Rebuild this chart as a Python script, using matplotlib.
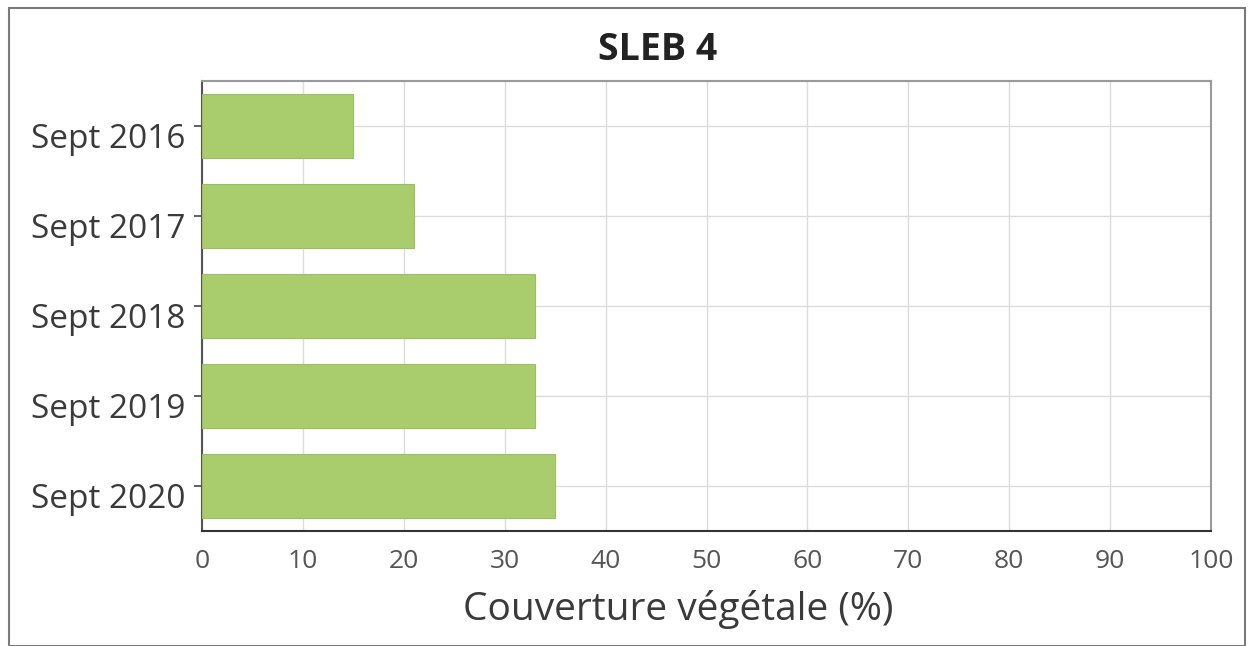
import numpy as np
import matplotlib.pyplot as plt
import matplotlib.transforms as mtransforms
from matplotlib.patches import Rectangle

# Couverture végétale par campagne (SLEB 4)
campagnes = ['Sept 2016', 'Sept 2017', 'Sept 2018', 'Sept 2019', 'Sept 2020']
couverture = [15, 21, 33, 33, 35]
xticks = [0, 10, 20, 30, 40, 50, 60, 70, 80, 90, 100]

plt.rcParams['font.family'] = ['Open Sans', 'DejaVu Sans']
text_color = '#3a3a3a'

fig = plt.figure(figsize=(12.53, 6.46), dpi=100)
ax = fig.add_axes([202 / 1253, 1 - 531 / 646, 1009 / 1253, 450 / 646])

y = np.arange(len(campagnes))
ax.barh(y, couverture, height=0.72, color='#a9cd6c', edgecolor='#9bbf60',
        linewidth=0.8, zorder=3)

ax.set_xlim(0, 100)
ax.set_ylim(len(campagnes) - 0.5, -0.5)
ax.set_xticks(xticks)
ax.set_yticks(y)
ax.set_yticklabels(campagnes)
ax.grid(True, color='#dcdcdc', linewidth=1.0, zorder=0)

ax.tick_params(axis='x', length=0, pad=13, labelsize=19, labelcolor='#555555')
ax.tick_params(axis='y', length=6, width=1.2, color='#444444', pad=6,
               labelsize=24, labelcolor=text_color)

# labels de campagne un peu sous le centre des barres
offset = mtransforms.ScaledTranslation(0, -9 / 100, fig.dpi_scale_trans)
for lab in ax.get_yticklabels():
    lab.set_transform(lab.get_transform() + offset)

for side in ['top', 'right']:
    ax.spines[side].set_color('#9a9a9a')
    ax.spines[side].set_linewidth(1.5)
ax.spines['left'].set_color('#555555')
ax.spines['left'].set_linewidth(1.5)
ax.spines['bottom'].set_color('#333333')
ax.spines['bottom'].set_linewidth(1.5)

ax.set_xlabel('Couverture végétale (%)', fontsize=28, color=text_color)
ax.xaxis.set_label_coords(0.472, -0.132)
fig.text(658 / 1253, 1 - 50 / 646, 'SLEB 4', ha='center', va='center',
         fontsize=27, fontweight='bold', color='#222222')

# cadre autour de la figure
fig.patches.append(Rectangle((9 / 1253, 0), 1236 / 1253, 1 - 8 / 646,
                             transform=fig.transFigure, fill=False,
                             edgecolor='#7a7a7a', linewidth=1.5))

fig.savefig('out.png', dpi=100, facecolor='white')
